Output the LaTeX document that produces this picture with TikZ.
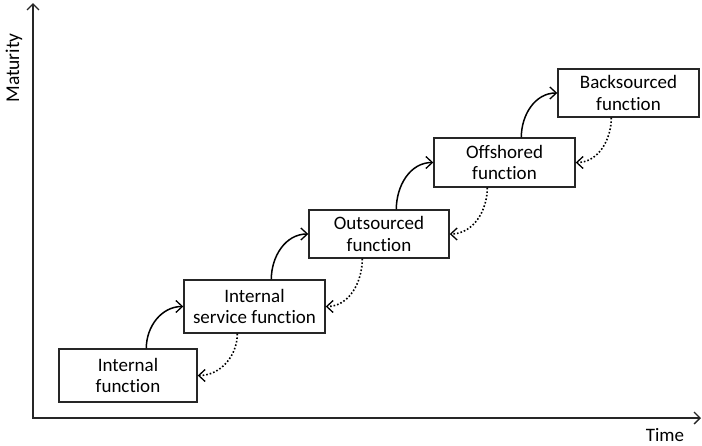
\documentclass[tikz,border=0pt]{standalone}
\usepackage{fontspec}
\setmainfont{Carlito}[Ligatures={NoCommon}]
\usetikzlibrary{arrows.meta,calc}
\begin{document}
\begin{tikzpicture}[x=1pt,y=-1pt,
  box/.style={draw=black!85,line width=1.4pt,align=center,inner sep=0pt,font=\fontsize{19}{21.5}\selectfont},
  up/.style={line width=1.5pt,-{Straight Barb[length=6.5pt,width=12pt,line width=1.3pt]},out=90,in=180},
  back/.style={line width=1.6pt,dotted,-{Straight Barb[length=6.5pt,width=12pt,line width=1.3pt]},out=-90,in=0},
  axis/.style={line width=1.8pt,black!85,-{Straight Barb[length=6pt,width=12pt,line width=1.3pt]}}]
\useasboundingbox (0,0) rectangle (702,445);
\coordinate (o) at (33,418);
\coordinate (ytop) at (33,3);
\coordinate (xend) at (701,418);
\draw[axis] (o) -- (ytop);
\draw[axis] ($(o)+(-0.9,0)$) -- (xend);
\node[rotate=90,font=\fontsize{19.5}{21}\selectfont] (mat) at (14,68) {Maturity};
\node[font=\fontsize{19}{21}\selectfont,inner sep=0pt,anchor=base] (time) at (665,441) {Time};
\node[box,minimum width=138pt,minimum height=53pt] (b1) at (128,375.5) {Internal\\function};
\node[box,minimum width=141pt,minimum height=53pt] (b2) at (254.5,306.5) {Internal\\service function};
\node[box,minimum width=140pt,minimum height=48pt] (b3) at (379,234) {Outsourced\\function};
\node[box,minimum width=141pt,minimum height=49pt] (b4) at (504.5,162.5) {Offshored\\function};
\node[box,minimum width=141pt,minimum height=48pt] (b5) at (628.5,93) {Backsourced\\function};
\foreach \a/\b in {b1/b2,b2/b3,b3/b4,b4/b5}{
  \draw[up] ($(\a.north west)+(88,0)$) to (\b.west);
  \draw[back] ($(\b.south west)+(54,0)$) to (\a.east);
}
\end{tikzpicture}
\end{document}
